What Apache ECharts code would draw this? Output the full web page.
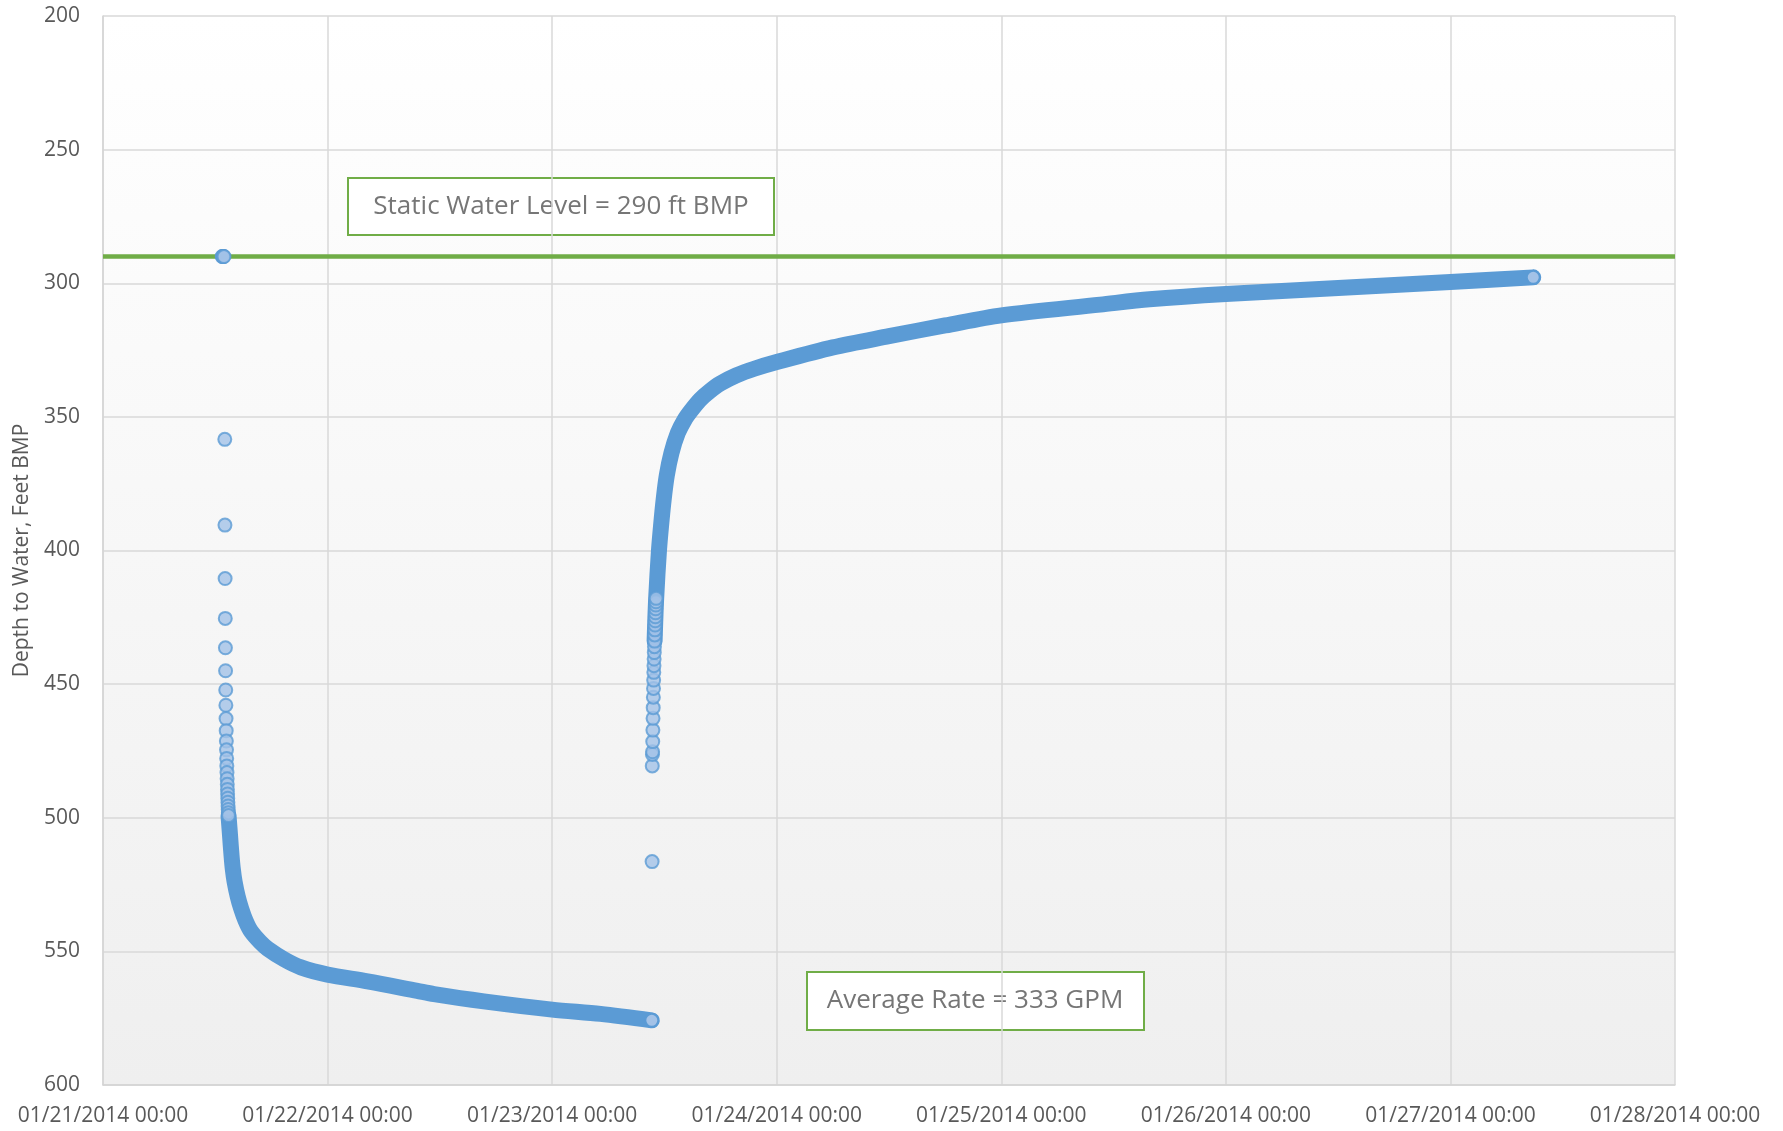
<!DOCTYPE html>
<html>
<head>
<meta charset="utf-8">
<title>Depth to Water</title>
<script src="https://cdn.jsdelivr.net/npm/echarts@6.0.0/dist/echarts.min.js"></script>
<style>
  html, body { margin: 0; padding: 0; background: #ffffff; }
  #chart { width: 1783px; height: 1131px; }
</style>
</head>
<body>
<div id="chart"></div>
<script>
// ---- Well readings (depth to water, feet below measuring point) ----
const staticWaterLevel = 290;
const averageRateGpm = 333;

// Pumping test: early transducer readings (drawn as individual markers)
const pumpingMarkerTimes = [
  '2014-01-21 12:44', '2014-01-21 12:47', '2014-01-21 12:50', '2014-01-21 12:53', '2014-01-21 12:56',
  '2014-01-21 13:01', '2014-01-21 13:02', '2014-01-21 13:03', '2014-01-21 13:04', '2014-01-21 13:05',
  '2014-01-21 13:06', '2014-01-21 13:07', '2014-01-21 13:08', '2014-01-21 13:09', '2014-01-21 13:10',
  '2014-01-21 13:11', '2014-01-21 13:12', '2014-01-21 13:13', '2014-01-21 13:14', '2014-01-21 13:15',
  '2014-01-21 13:16', '2014-01-21 13:17', '2014-01-21 13:18', '2014-01-21 13:19', '2014-01-21 13:20',
  '2014-01-21 13:21', '2014-01-21 13:22', '2014-01-21 13:23', '2014-01-21 13:24', '2014-01-21 13:25'
];
const pumpingMarkerDepths = [
  290, 290, 290, 290, 290,
  358.4, 390.5, 410.5, 425.4, 436.4,
  445.0, 452.2, 457.9, 462.9, 467.4,
  471.3, 474.6, 477.8, 480.6, 483.1,
  485.4, 487.5, 489.4, 491.1, 492.7,
  494.2, 495.6, 496.9, 498.1, 499.2
];

// Pumping test: continuous drawdown record
const pumpingTrendTimes = [
  '2014-01-21 13:25', '2014-01-21 13:35', '2014-01-21 13:44', '2014-01-21 13:52', '2014-01-21 14:04',
  '2014-01-21 14:24', '2014-01-21 14:46', '2014-01-21 15:14', '2014-01-21 15:49', '2014-01-21 16:48',
  '2014-01-21 17:36', '2014-01-21 19:22', '2014-01-21 21:09', '2014-01-22 00:00', '2014-01-22 04:16',
  '2014-01-22 09:36', '2014-01-22 11:23', '2014-01-22 16:42', '2014-01-23 00:00', '2014-01-23 05:10',
  '2014-01-23 10:39'
];
const pumpingTrendDepths = [
  499.2, 507, 514, 519, 524,
  529.5, 534, 538.5, 542.5, 546.5,
  549, 553, 556, 558.7, 561.2,
  564.8, 566.0, 568.7, 571.8, 573.4,
  575.8
];

// Recovery: early transducer readings after the pump was shut off
const recoveryMarkerTimes = [
  '2014-01-23 10:41', '2014-01-23 10:42', '2014-01-23 10:43', '2014-01-23 10:44', '2014-01-23 10:45',
  '2014-01-23 10:46', '2014-01-23 10:47', '2014-01-23 10:48', '2014-01-23 10:49', '2014-01-23 10:50',
  '2014-01-23 10:51', '2014-01-23 10:52', '2014-01-23 10:53', '2014-01-23 10:54', '2014-01-23 10:55',
  '2014-01-23 10:56', '2014-01-23 10:57', '2014-01-23 10:58', '2014-01-23 10:59', '2014-01-23 11:00',
  '2014-01-23 11:01', '2014-01-23 11:02', '2014-01-23 11:03', '2014-01-23 11:04', '2014-01-23 11:05',
  '2014-01-23 11:06', '2014-01-23 11:07'
];
const recoveryMarkerDepths = [
  516.4, 480.6, 476.3, 475.3, 471.5,
  467.2, 462.8, 458.8, 454.9, 451.6,
  448.5, 445.6, 443.1, 440.6, 438.2,
  436.0, 433.9, 431.6, 429.7, 427.9,
  426.3, 424.8, 423.3, 421.8, 420.4,
  419.2, 417.9
];

// Recovery: continuous record
const recoveryTrendTimes = [
  '2014-01-23 10:57', '2014-01-23 11:07', '2014-01-23 11:25', '2014-01-23 11:38', '2014-01-23 11:55',
  '2014-01-23 12:15', '2014-01-23 12:45', '2014-01-23 13:26', '2014-01-23 14:10', '2014-01-23 14:53',
  '2014-01-23 15:50', '2014-01-23 16:48', '2014-01-23 18:00', '2014-01-23 19:41', '2014-01-23 21:36',
  '2014-01-24 00:00', '2014-01-24 06:00', '2014-01-24 12:00', '2014-01-24 18:00', '2014-01-25 00:00',
  '2014-01-25 10:34', '2014-01-25 15:50', '2014-01-26 00:00', '2014-01-26 12:00', '2014-01-27 00:00',
  '2014-01-27 08:51'
];
const recoveryTrendDepths = [
  433.9, 417.9, 400, 391, 381,
  372, 363.5, 356, 351, 347.5,
  343.5, 340.5, 337.5, 334.5, 332,
  329.5, 324, 319.8, 315.8, 312,
  308, 306, 304, 301.8, 299.5,
  297.8
];

// Axis ranges
const xStart = '2014-01-21 00:00';
const xEnd = '2014-01-28 00:00';
const depthMin = 200;
const depthMax = 600;
const depthStep = 50;

// ---- helpers ----
const DAY_MS = 86400000;
function toMs(s) {
  const [d, t] = s.split(' ');
  const [Y, M, D] = d.split('-').map(Number);
  const [h, m] = t.split(':').map(Number);
  return Date.UTC(Y, M - 1, D, h, m);
}
function pad(n) { return String(n).padStart(2, '0'); }
function fmtDate(v) {
  const d = new Date(v);
  return pad(d.getUTCMonth() + 1) + '/' + pad(d.getUTCDate()) + '/' + d.getUTCFullYear() +
    ' ' + pad(d.getUTCHours()) + ':' + pad(d.getUTCMinutes());
}
function pairs(times, depths) {
  return times.map((t, i) => [toMs(t), depths[i]]);
}

const FONT = "'Open Sans', 'Liberation Sans', sans-serif";
const BLUE = '#5b9bd5';
const markerStyle = { color: '#a3c2e7', borderColor: BLUE, borderWidth: 2 };

// individual readings sit on top of the continuous band
function markerSeries(name, times, depths) {
  return {
    name, type: 'scatter', data: pairs(times, depths),
    symbol: 'circle', symbolSize: 13, itemStyle: markerStyle, z: 5
  };
}
function trendSeries(name, times, depths) {
  const n = times.length;
  return {
    name, type: 'line',
    data: times.map((t, i) => ({ value: [toMs(t), depths[i]], symbol: i === n - 1 ? 'circle' : 'none' })),
    showSymbol: true, showAllSymbol: true, symbolSize: 13,
    smooth: 0.3,
    itemStyle: markerStyle,
    lineStyle: { color: BLUE, width: 16, cap: 'round', join: 'round' },
    z: 4
  };
}

const chart = echarts.init(document.getElementById('chart'), null, { renderer: 'canvas' });

const option = {
  animation: false,
  backgroundColor: '#ffffff',
  textStyle: { fontFamily: FONT },
  grid: {
    left: 103, right: 108, top: 16, bottom: 46,
    show: true, borderWidth: 0,
    backgroundColor: new echarts.graphic.LinearGradient(0, 0, 0, 1, [
      { offset: 0, color: '#ffffff' },
      { offset: 1, color: '#efefef' }
    ])
  },
  xAxis: {
    type: 'value',
    min: toMs(xStart), max: toMs(xEnd), interval: DAY_MS,
    axisLine: { show: true, lineStyle: { color: '#d4d4d4', width: 1.5 } },
    axisTick: { show: false },
    splitLine: { show: true, lineStyle: { color: '#d9d9d9', width: 1.5 } },
    axisLabel: {
      formatter: fmtDate, color: '#595959', fontSize: 21, fontFamily: FONT, margin: 21
    }
  },
  yAxis: {
    type: 'value', inverse: true,
    min: depthMin, max: depthMax, interval: depthStep,
    name: 'Depth to Water, Feet BMP', nameLocation: 'middle', nameGap: 70,
    nameTextStyle: { color: '#595959', fontSize: 21, fontFamily: FONT },
    axisLine: { show: true, lineStyle: { color: '#d4d4d4', width: 1.5 } },
    axisTick: { show: false },
    splitLine: { show: true, lineStyle: { color: '#d9d9d9', width: 1.5 } },
    axisLabel: { color: '#595959', fontSize: 21, fontFamily: FONT, margin: 23 }
  },
  series: [
    {
      name: 'Static Water Level', type: 'line', data: [], z: 2,
      markLine: {
        silent: true, symbol: ['none', 'none'], label: { show: false },
        lineStyle: { color: '#70ad47', width: 4.5, type: 'solid' },
        data: [{ yAxis: staticWaterLevel }]
      }
    },
    markerSeries('Pumping', pumpingMarkerTimes, pumpingMarkerDepths),
    trendSeries('Pumping trend', pumpingTrendTimes, pumpingTrendDepths),
    markerSeries('Recovery', recoveryMarkerTimes, recoveryMarkerDepths),
    trendSeries('Recovery trend', recoveryTrendTimes, recoveryTrendDepths)
  ],
  graphic: [
    {
      type: 'group', left: 347, top: 177, z: 10,
      children: [
        { type: 'rect', shape: { x: 0, y: 0, width: 426, height: 57 },
          style: { fill: '#ffffff', stroke: '#70ad47', lineWidth: 2 } },
        { type: 'text', x: 213, y: 29,
          style: { text: 'Static Water Level = ' + staticWaterLevel + ' ft BMP', fill: '#767676',
                   font: '26px ' + FONT, textAlign: 'center', textVerticalAlign: 'middle' } }
      ]
    },
    {
      type: 'group', left: 806, top: 971, z: 10,
      children: [
        { type: 'rect', shape: { x: 0, y: 0, width: 337, height: 58 },
          style: { fill: '#ffffff', stroke: '#70ad47', lineWidth: 2 } },
        { type: 'text', x: 168, y: 29,
          style: { text: 'Average Rate = ' + averageRateGpm + ' GPM', fill: '#767676',
                   font: '26px ' + FONT, textAlign: 'center', textVerticalAlign: 'middle' } }
      ]
    }
  ]
};

chart.setOption(option);
</script>
</body>
</html>
